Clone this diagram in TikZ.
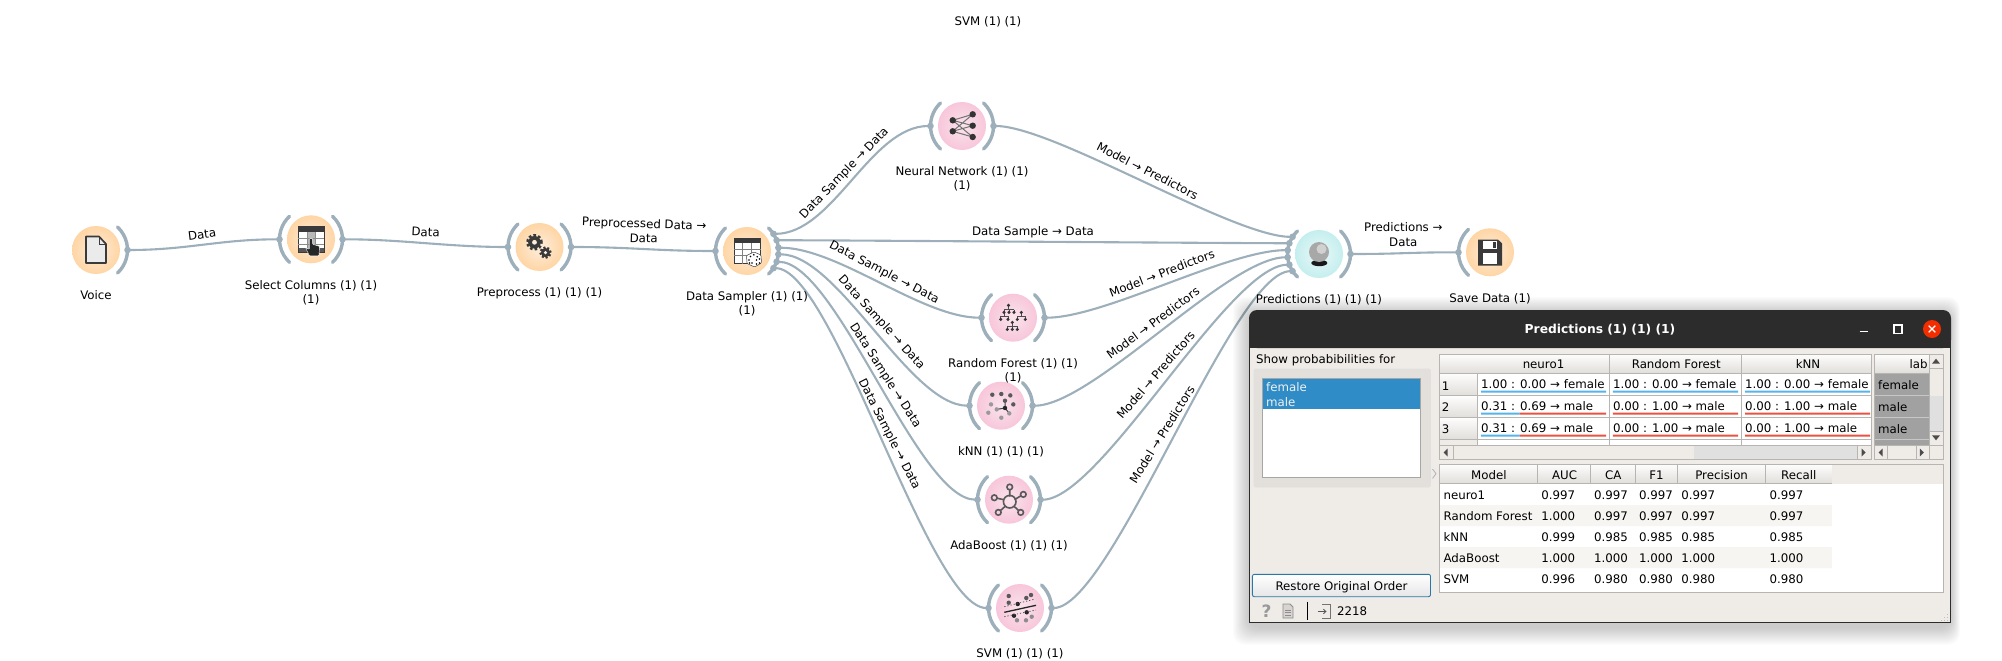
\documentclass[tikz,border=0pt]{standalone}
\usepackage{fontspec}
\setmainfont{DejaVu Sans}
\usepackage{tikz}
\usetikzlibrary{arrows.meta}

\definecolor{wire}{HTML}{9DAFBA}
\definecolor{winbg}{HTML}{EFECE8}
\definecolor{titlebar}{HTML}{2C2C2C}
\definecolor{gridline}{HTML}{B7B5B2}
\definecolor{selblue}{HTML}{308CC6}
\definecolor{barblue}{HTML}{55B5EA}
\definecolor{barred}{HTML}{E9533F}
\definecolor{icondark}{HTML}{3A3A3A}
\definecolor{orangein}{HTML}{FDEEDD}
\definecolor{orangeout}{HTML}{FFD5A4}
\definecolor{pinkin}{HTML}{F9E4EC}
\definecolor{pinkout}{HTML}{F8C6DA}
\definecolor{cyanin}{HTML}{ECF9F9}
\definecolor{cyanout}{HTML}{C4EEEE}

\tikzset{
  widget/.style={circle,inner sep=0pt,minimum size=48pt,outer sep=7.5pt},
  orangew/.style={widget,inner color=orangein,outer color=orangeout},
  pinkw/.style={widget,inner color=pinkin,outer color=pinkout},
  cyanw/.style={widget,inner color=cyanin,outer color=cyanout},
  channel/.style={draw=wire,line width=3.4pt,line cap=round},
  link/.style={draw=wire,line width=2.1pt,{Circle[length=6.5pt,sep=-3.2pt]}-{Circle[length=6.5pt,sep=-3.2pt]}},
  caption/.style={font=\fontsize{11.8}{14.6}\selectfont,align=center,inner sep=0pt,anchor=north},
  twolines/.style={font=\fontsize{11.8}{14.6}\selectfont,align=center,inner sep=0pt},
  linklabel/.style={font=\fontsize{11.8}{14.6}\selectfont,inner sep=0pt,text height=8.6pt,text depth=0pt},
  wintext/.style={font=\fontsize{11.8}{14.6}\selectfont,inner sep=0pt,text height=8.6pt,text depth=0pt},
  grid/.style={draw=gridline,line width=0.8pt},
  headfill/.style={top color=white!90!winbg,bottom color=winbg!94!black},
}

\newcommand{\chanout}[1]{\draw[channel] (#1.-47) arc[start angle=-47,end angle=47,radius=31.5pt];}
\newcommand{\chanin}[1]{\draw[channel] (#1.133) arc[start angle=133,end angle=227,radius=31.5pt];}

\begin{document}
\begin{tikzpicture}[x=1pt,y=-1pt]
  \useasboundingbox (0,0) rectangle (2002,661);

  % widgets
  \node[orangew] (voice) at (96,250) {};
  \node[orangew] (select) at (311,239.3) {};
  \node[orangew] (preproc) at (539.5,247) {};
  \node[orangew] (sampler) at (747,251) {};
  \node[pinkw] (nnet) at (962,126) {};
  \node[pinkw] (forest) at (1013,317.7) {};
  \node[pinkw] (knn) at (1001,405.7) {};
  \node[pinkw] (ada) at (1009,499.7) {};
  \node[pinkw] (svm) at (1020,608) {};
  \node[cyanw] (pred) at (1319,254) {};
  \node[orangew] (save) at (1490,252.3) {};

  \chanout{voice}
  \chanin{select} \chanout{select}
  \chanin{preproc} \chanout{preproc}
  \chanin{sampler} \chanout{sampler}
  \chanin{nnet} \chanout{nnet}
  \chanin{forest} \chanout{forest}
  \chanin{knn} \chanout{knn}
  \chanin{ada} \chanout{ada}
  \chanin{svm} \chanout{svm}
  \chanin{pred} \chanout{pred}
  \chanin{save}

  % links
  \draw[link] (voice.east) .. controls +(60,0) and +(-60,0) .. (select.west);
  \draw[link] (select.east) .. controls +(60,0) and +(-60,0) .. (preproc.west);
  \draw[link] (preproc.east) .. controls +(60,0) and +(-60,0) .. (sampler.west);
  \draw[link] (sampler.33) .. controls +(60,0) and +(-60,0) .. (nnet.west);
  \draw[link] (sampler.20) .. controls +(60,0) and +(-60,0) .. (pred.160);
  \draw[link] (sampler.6.5) .. controls +(60,0) and +(-60,0) .. (forest.west);
  \draw[link] (sampler.-6.5) .. controls +(60,0) and +(-60,0) .. (knn.west);
  \draw[link] (sampler.-20) .. controls +(60,0) and +(-60,0) .. (ada.west);
  \draw[link] (sampler.-33) .. controls +(60,0) and +(-60,0) .. (svm.west);
  \draw[link] (nnet.east) .. controls +(60,0) and +(-60,0) .. (pred.147);
  \draw[link] (forest.east) .. controls +(60,0) and +(-60,0) .. (pred.173.5);
  \draw[link] (knn.east) .. controls +(60,0) and +(-60,0) .. (pred.186.5);
  \draw[link] (ada.east) .. controls +(60,0) and +(-60,0) .. (pred.200);
  \draw[link] (svm.east) .. controls +(60,0) and +(-60,0) .. (pred.213);
  \draw[link] (pred.east) .. controls +(50,0) and +(-50,0) .. (save.west);

  % link labels
  \node[linklabel,rotate=7] (lvoice) at (202,234.5) {Data};
  \node[linklabel,rotate=-3] (lselect) at (425.7,232.3) {Data};
  \node[twolines,rotate=-2] (lpreproc) at (644,231) {Preprocessed Data →\\Data};
  \node[linklabel,rotate=46] (lnnet) at (843.6,172.7) {Data Sample → Data};
  \node[linklabel] (lpred) at (1033,230.7) {Data Sample → Data};
  \node[linklabel,rotate=-27.5] (lforest) at (884.6,271.7) {Data Sample → Data};
  \node[linklabel,rotate=-47.6] (lknn) at (882,322) {Data Sample → Data};
  \node[linklabel,rotate=-57.3] (lada) at (886,375) {Data Sample → Data};
  \node[linklabel,rotate=-62.8] (lsvm) at (890,434) {Data Sample → Data};
  \node[linklabel,rotate=-27] (mnnet) at (1147.5,171) {Model → Predictors};
  \node[linklabel,rotate=21] (mforest) at (1162,273.3) {Model → Predictors};
  \node[linklabel,rotate=36.5] (mknn) at (1153,323) {Model → Predictors};
  \node[linklabel,rotate=49] (mada) at (1155.8,375) {Model → Predictors};
  \node[linklabel,rotate=58] (msvm) at (1162,434.5) {Model → Predictors};
  \node[twolines] (lsave) at (1403.3,234.8) {Predictions →\\Data};

  % widget captions
  \node[caption] (cvoice) at (96,290.5) {Voice};
  \node[caption] (cselect) at (311,280) {Select Columns (1) (1)\\(1)};
  \node[caption] (cpreproc) at (539.5,287) {Preprocess (1) (1) (1)};
  \node[caption] (csampler) at (747,291) {Data Sampler (1) (1)\\(1)};
  \node[caption] (cnnet) at (962,166) {Neural Network (1) (1)\\(1)};
  \node[caption] (cforest) at (1013,358) {Random Forest (1) (1)\\(1)};
  \node[caption] (cknn) at (1001,446) {kNN (1) (1) (1)};
  \node[caption] (cada) at (1009,540) {AdaBoost (1) (1) (1)};
  \node[caption] (csvm) at (1020,648) {SVM (1) (1) (1)};
  \node[caption] (cpred) at (1319,294) {Predictions (1) (1) (1)};
  \node[caption] (csave) at (1490,293) {Save Data (1)};
  \node[caption] (cghost) at (988,16) {SVM (1) (1)};

  % icon: file
  \begin{scope}[shift={(voice.center)}]
    \draw[fill=white!92!black,draw=icondark,line width=1.7pt,line join=round]
      (-10,-13.5) -- (3,-13.5) -- (10,-6) -- (10,13) -- (-10,13) -- cycle;
    \draw[icondark,line width=1pt] (3,-13.5) -- (3,-6) -- (10,-6);
  \end{scope}

  % icon: table with hand
  \begin{scope}[shift={(select.center)}]
    \fill[white] (-13,-13) rectangle (13,13);
    \fill[black!28] (-4,-7) rectangle (4,13);
    \fill[icondark] (-13,-13.3) rectangle (13,-7);
    \fill[icondark!85] (-13,8.5) rectangle (-3,13.3);
    \fill[icondark!85] (6,8.5) rectangle (13,13.3);
    \draw[icondark,line width=1pt] (-13,-13) rectangle (13,13);
    \draw[black!45,line width=0.6pt] (-13,-1) -- (13,-1) (-13,5) -- (13,5) (-4,-7) -- (-4,13) (4,-7) -- (4,13);
    \fill[black!85,draw=white,line width=0.4pt,rounded corners=0.8pt]
      (-1.5,-1) -- (1.6,-1) -- (1.6,5) -- (8.5,7) -- (8,16.5) -- (-1.5,16.5) -- (-5.5,8.5) -- (-1.5,10) -- cycle;
  \end{scope}

  % icon: gears
  \begin{scope}[shift={(preproc.center)}]
    \fill[icondark] (-5,-4.7) circle (6.3pt);
    \draw[icondark,line width=2.6pt,dash pattern=on 2.6pt off 2.1pt] (-5,-4.7) circle (7pt);
    \fill[orangein] (-5,-4.7) circle (2.4pt);
    \fill[icondark] (6,5.6) circle (4.6pt);
    \draw[icondark,line width=2.2pt,dash pattern=on 2.1pt off 1.9pt] (6,5.6) circle (5.2pt);
    \fill[orangein] (6,5.6) circle (1.8pt);
  \end{scope}

  % icon: table with die
  \begin{scope}[shift={(sampler.center)}]
    \fill[white] (-13,-13) rectangle (13.5,12.7);
    \fill[icondark] (-13,-13) rectangle (13.5,-8);
    \draw[icondark,line width=1pt] (-13,-13) rectangle (13.5,12.7);
    \draw[black!50,line width=0.6pt] (-13,-2) -- (13.5,-2) (-13,4.5) -- (13.5,4.5) (-5,-8) -- (-5,12.7) (4,-8) -- (4,12.7);
    \fill[white,draw=black!75,line width=0.5pt,rounded corners=1pt]
      (7,1) -- (14,4) -- (14.5,12) -- (7.5,16) -- (0,12.5) -- (-0.5,4.5) -- cycle;
    \fill[black] (6.8,3.8) circle (0.9pt) (3.5,5.5) circle (0.9pt) (10.2,5.8) circle (0.9pt);
    \fill[black] (2,9) circle (0.9pt) (5,12) circle (0.9pt) (2.5,12) circle (0.9pt);
    \fill[black] (9.5,9) circle (0.9pt) (12.5,8) circle (0.9pt) (9.5,13) circle (0.9pt) (12.5,12) circle (0.9pt);
  \end{scope}

  % icon: network
  \begin{scope}[shift={(nnet.center)}]
    \draw[black!55,line width=1pt]
      (-9.3,-5.7) -- (10.7,-11.7) (-9.3,-5.7) -- (10.7,-0.3) (-9.3,-5.7) -- (10.7,11)
      (-9.3,5.3) -- (10.7,-11.7) (-9.3,5.3) -- (10.7,-0.3) (-9.3,5.3) -- (10.7,11);
    \fill[black!80] (-9.3,-5.7) circle (3.2pt) (-9.3,5.3) circle (3.2pt)
      (10.7,-11.7) circle (3.2pt) (10.7,-0.3) circle (3.2pt) (10.7,11) circle (3.2pt);
  \end{scope}

  % icon: trees
  \begin{scope}[shift={(forest.center)}]
    \draw[black!70,line width=0.6pt]
      (-4.5,-12.3) -- (-4.5,-8) (-9,-8) -- (1,-8) (-9,-8) -- (-9,-5) (-4,-8) -- (-4,-5) (1,-8) -- (1,-5)
      (-9,-5) -- (-9,-1.5) (-12.3,-1.5) -- (-5,-1.5) (-12.3,-1.5) -- (-12.3,1.7) (-5,-1.5) -- (-5,1.7)
      (8.3,-5.3) -- (8.3,-1.5) (4.3,-1.5) -- (12.3,-1.5) (4.3,-1.5) -- (4.3,1.7) (12.3,-1.5) -- (12.3,1.7)
      (-0.7,4.7) -- (-0.7,8.5) (-5.7,8.5) -- (4.3,8.5) (-5.7,8.5) -- (-5.7,11.7) (-0.7,8.5) -- (-0.7,11.7) (4.3,8.5) -- (4.3,11.7);
    \fill[black!80] (-4.5,-12.3) circle (1.7pt) (-9,-5.3) circle (1.7pt) (-4,-5.3) circle (1.7pt) (1,-5.3) circle (1.7pt)
      (-12.3,1.7) circle (1.7pt) (-5,1.7) circle (1.7pt) (8.3,-5.3) circle (1.7pt) (4.3,1.7) circle (1.7pt) (12.3,1.7) circle (1.7pt)
      (-0.7,4.7) circle (1.7pt) (-5.7,11.7) circle (1.7pt) (-0.7,11.7) circle (1.7pt) (4.3,11.7) circle (1.7pt);
  \end{scope}

  % icon: neighbours
  \begin{scope}[shift={(knn.center)}]
    \fill[black!65] (-8.7,-11) circle (2.2pt) (0.3,-11.7) circle (2.2pt) (9.3,-10.3) circle (2.2pt) (12.3,-1.3) circle (2.2pt);
    \fill[black!40] (-10,-1.3) circle (2.2pt) (-12.7,7) circle (2.2pt) (0.3,12) circle (2.2pt);
    \draw[black!75,line width=1pt] (4,2.3) -- (4,-5) (4,2.3) -- (-4.3,3.7) (4,2.3) -- (8.3,7.7);
    \fill[black!65] (4,-5) circle (2.2pt);
    \fill[black!40] (-4.3,3.7) circle (2.2pt) (8.3,7.7) circle (2.2pt);
    \fill[black!85] (4,2.3) circle (2.2pt);
  \end{scope}

  % icon: hub
  \begin{scope}[shift={(ada.center)}]
    \draw[black!65,line width=1.6pt]
      (0.7,-3) -- (0.7,-10) (5.5,0) -- (12,-4) (5,6.5) -- (9.7,11) (-3.7,6.5) -- (-8.7,11) (-5,0) -- (-12.2,-1.5);
    \draw[black!65,line width=1.6pt] (0.7,2) circle (6.3pt) (0.7,-12.7) circle (2.8pt) (14.3,-5.3) circle (2.8pt)
      (11.7,12.7) circle (2.8pt) (-10.7,12.7) circle (2.8pt) (-14.7,-2) circle (2.8pt);
  \end{scope}

  % icon: margin
  \begin{scope}[shift={(svm.center)}]
    \fill[black!65] (-11.3,-12) circle (2.2pt) (6.3,-10) circle (2.2pt) (11,-13) circle (2.2pt) (-11.3,-5.3) circle (2.2pt);
    \fill[black!85] (-2.3,-4) circle (2.2pt) (6.7,4.3) circle (2.2pt) (-6,7.7) circle (2.2pt);
    \fill[black!45] (-3,12.3) circle (2.2pt) (6,12.3) circle (2.2pt) (11.7,8.7) circle (2.2pt);
    \draw[black!85,line width=1.3pt] (-15.7,4.3) -- (16,-2.7);
    \draw[black!75,line width=0.7pt,dash pattern=on 1.2pt off 2pt] (-15.7,-1.3) -- (14,-8.7) (-15.7,8.7) -- (16,2);
  \end{scope}

  % icon: ball
  \begin{scope}[shift={(pred.center)}]
    \fill[black!90] (0.3,9) ellipse (8pt and 3.2pt);
    \fill[black!34] (0,-2) circle (10pt);
    \fill[black!18] (2.5,-5) circle (5pt);
  \end{scope}

  % icon: disk
  \begin{scope}[shift={(save.center)}]
    \fill[icondark] (-12,-12.7) -- (8,-12.7) -- (12,-9) -- (12,13.3) -- (-12,13.3) -- cycle;
    \fill[white] (-6.7,1) rectangle (7.3,11.5);
    \fill[white] (-6.7,-11.7) rectangle (7.3,-3.5);
    \fill[icondark] (2.7,-10.7) rectangle (6,-4.5);
  \end{scope}

  % window shadow
  \foreach \i in {1,...,18}
    \fill[black,opacity=0.012,rounded corners=12pt] ({1249-0.9*\i},{313-0.9*\i}) rectangle ({1951+0.5*\i},{627+\i});

  % window frame
  \fill[winbg] (1249,340) rectangle (1951,623);
  \draw[titlebar,line width=1.3pt] (1249.6,340) -- (1249.6,622.4) -- (1950.4,622.4) -- (1950.4,340);
  \fill[titlebar,rounded corners=8pt] (1249,310) -- (1951,310) -- (1951,348) -- (1249,348) -- cycle;
  \fill[titlebar] (1249,330) rectangle (1951,348);
  \node[font=\fontsize{12.3}{16}\selectfont\bfseries,text=white,inner sep=0pt] (wintitle) at (1600,330) {Predictions (1) (1) (1)};
  \draw[white,line width=1.4pt] (1859.5,331.5) -- (1868,331.5);
  \draw[white,line width=1.2pt] (1894,325) rectangle (1902,333.5);
  \fill[red!62!orange!95!black] (1932,329) circle (9pt);
  \draw[white,line width=1.3pt] (1928.7,325.7) -- (1935.3,332.3) (1928.7,332.3) -- (1935.3,325.7);

  % left pane
  \node[wintext,anchor=west] (showfor) at (1256,358.7) {Show probabibilities for};
  \draw[fill=winbg!95!black,draw=black!12,line width=0.8pt,rounded corners=1.5pt] (1254,369) rectangle (1430.5,487);
  \draw[fill=white,draw=black!35,line width=0.9pt] (1262,378) rectangle (1420.4,477.7);
  \fill[selblue] (1262.6,379) rectangle (1419.8,409);
  \node[wintext,anchor=west,text=white!94!black] (lfemale) at (1266,386.7) {female};
  \node[wintext,anchor=west,text=white!94!black] (lmale) at (1266,401.7) {male};
  \draw[black!30,line width=0.8pt] (1432.5,469) -- (1436,473.7) -- (1432.5,478.4);
  \shade[top color=white,bottom color=blue!8!black!10!white,rounded corners=2pt] (1252.4,574.3) rectangle (1430.5,596.7);
  \draw[selblue!85!black,line width=0.9pt,rounded corners=2pt] (1252.4,574.3) rectangle (1430.5,596.7);
  \node[wintext] (restore) at (1341.5,585.7) {Restore Original Order};

  % status bar
  \node[font=\fontsize{17}{17}\selectfont\bfseries,text=black!40,inner sep=0pt] (helpmark) at (1266.6,611) {?};
  \draw[black!45,fill=winbg!90!black,line width=0.9pt] (1283,604) -- (1290,604) -- (1293,607) -- (1293,618) -- (1283,618) -- cycle;
  \draw[black!45,line width=0.7pt] (1285,610) -- (1291,610) (1285,612.5) -- (1291,612.5) (1285,615) -- (1291,615);
  \draw[black,line width=1pt] (1307.5,601.7) -- (1307.5,620);
  \draw[black!55,line width=0.8pt] (1322,604.5) -- (1330,604.5) -- (1330,618.5) -- (1322,618.5);
  \draw[black!65,line width=0.9pt,-{Straight Barb[length=2.4pt,width=4.5pt]}] (1318,611.5) -- (1326.5,611.5);
  \node[wintext,anchor=west] (count) at (1337,611) {2218};
  \foreach \i/\j in {0/0,3/0,6/0,3/3,6/3,6/6}
    \fill[black!25] ({1941+\i},{621-\j-1}) rectangle ({1942+\i},{621-\j});

  % prediction table
  \fill[white] (1439.7,354.3) rectangle (1871.3,445.3);
  \shade[headfill] (1439.7,354.3) rectangle (1871.3,373.3);
  \shade[headfill] (1439.7,373.3) rectangle (1477.4,395.7);
  \shade[headfill] (1439.7,395.7) rectangle (1477.4,417.7);
  \shade[headfill] (1439.7,417.7) rectangle (1477.4,439.3);
  \fill[winbg] (1439.7,439.3) rectangle (1477.4,445.3);
  \draw[grid] (1439.7,373.3) -- (1871.3,373.3) (1439.7,395.7) -- (1871.3,395.7) (1439.7,417.7) -- (1871.3,417.7) (1439.7,439.3) -- (1871.3,439.3);
  \draw[grid] (1477.4,373.3) -- (1477.4,445.3) (1609.6,354.3) -- (1609.6,445.3) (1741.4,354.3) -- (1741.4,445.3);
  \draw[grid] (1439.7,354.3) rectangle (1871.3,459.7);
  \node[wintext] (hneuro) at (1543.5,364.3) {neuro1};
  \node[wintext] (hforest) at (1676.2,364.3) {Random Forest};
  \node[wintext] (hknn) at (1808,364.3) {kNN};
  \node[wintext] (rone) at (1445.7,385.7) {1};
  \node[wintext] (rtwo) at (1445.7,407.3) {2};
  \node[wintext] (rthree) at (1445.7,429.3) {3};
  \node[wintext,anchor=west] (aone) at (1481,384.3) {1.00 : 0.00 → female};
  \node[wintext,anchor=west] (bone) at (1612.8,384.3) {1.00 : 0.00 → female};
  \node[wintext,anchor=west] (cone) at (1745,384.3) {1.00 : 0.00 → female};
  \node[wintext,anchor=west] (atwo) at (1481,406.3) {0.31 : 0.69 → male};
  \node[wintext,anchor=west] (btwo) at (1612.8,406.3) {0.00 : 1.00 → male};
  \node[wintext,anchor=west] (ctwo) at (1745,406.3) {0.00 : 1.00 → male};
  \node[wintext,anchor=west] (athree) at (1481,428.3) {0.31 : 0.69 → male};
  \node[wintext,anchor=west] (bthree) at (1612.8,428.3) {0.00 : 1.00 → male};
  \node[wintext,anchor=west] (cthree) at (1745,428.3) {0.00 : 1.00 → male};
  \fill[barblue] (1481,390.7) rectangle (1606,392.7) (1612.8,390.7) rectangle (1738,392.7) (1745,390.7) rectangle (1870,392.7);
  \fill[barblue] (1481,412.7) rectangle (1519.6,414.7) (1481,434.7) rectangle (1519.6,436.7);
  \fill[barred] (1519.6,412.7) rectangle (1606,414.7) (1612.8,412.7) rectangle (1738,414.7) (1745,412.7) rectangle (1870,414.7);
  \fill[barred] (1519.6,434.7) rectangle (1606,436.7) (1612.8,434.7) rectangle (1738,436.7) (1745,434.7) rectangle (1870,436.7);

  % its scroll bar
  \fill[winbg] (1440.2,445.3) rectangle (1870.8,459.2);
  \fill[black!12] (1693.6,445.8) rectangle (1857.5,459.2);
  \draw[grid] (1439.7,445.3) -- (1871.3,445.3) (1453.5,445.3) -- (1453.5,459.7) (1857.5,445.3) -- (1857.5,459.7);
  \fill[black!70] (1443.5,452.5) -- (1447.5,448.5) -- (1447.5,456.5) -- cycle;
  \fill[black!70] (1865.5,452.5) -- (1861.5,448.5) -- (1861.5,456.5) -- cycle;

  % label column
  \shade[headfill] (1874.5,354.3) rectangle (1928.7,373.3);
  \fill[black!37] (1874.5,373.3) rectangle (1928.7,445.3);
  \draw[grid] (1874.5,373.3) -- (1928.7,373.3);
  \draw[black!22,line width=0.8pt] (1874.5,395.7) -- (1928.7,395.7) (1874.5,417.7) -- (1928.7,417.7) (1874.5,439.3) -- (1928.7,439.3);
  \node[wintext,anchor=east] (hlabel) at (1927.8,364.3) {lab};
  \node[wintext,anchor=west] (lone) at (1878,384.7) {female};
  \node[wintext,anchor=west] (ltwo) at (1878,406.7) {male};
  \node[wintext,anchor=west] (lthree) at (1878,428.7) {male};
  \draw[grid] (1874.5,354.3) rectangle (1943.4,459.7);
  \fill[black!12] (1930,395.7) rectangle (1943,431);
  \draw[grid] (1929.2,354.3) -- (1929.2,459.7) (1874.5,445.3) -- (1943.4,445.3) (1929.2,368.3) -- (1943.4,368.3) (1929.2,431) -- (1943.4,431);
  \fill[black!70] (1936,358.7) -- (1940,363.7) -- (1932,363.7) -- cycle;
  \fill[black!70] (1936,440.3) -- (1940,435.3) -- (1932,435.3) -- cycle;
  \fill[black!70] (1878.5,452.5) -- (1882.5,448.5) -- (1882.5,456.5) -- cycle;
  \fill[black!70] (1923.8,452.5) -- (1919.8,448.5) -- (1919.8,456.5) -- cycle;
  \draw[grid] (1887,445.3) -- (1887,459.7) (1916,445.3) -- (1916,459.7);

  % scores table
  \fill[white] (1439.7,464.3) rectangle (1943.4,592.7);
  \fill[winbg] (1439.7,464.3) rectangle (1943.4,483.7);
  \shade[headfill] (1439.7,464.3) rectangle (1831.8,483.7);
  \draw[grid] (1537.5,464.3) -- (1537.5,483.7) (1590.3,464.3) -- (1590.3,483.7) (1635.3,464.3) -- (1635.3,483.7)
    (1677.6,464.3) -- (1677.6,483.7) (1765.2,464.3) -- (1765.2,483.7);
  \draw[grid] (1439.7,483.7) -- (1831.8,483.7);
  \fill[winbg!55!white] (1440.2,505) rectangle (1831.8,526) (1440.2,547) rectangle (1831.8,568);
  \draw[grid] (1439.7,464.3) rectangle (1943.4,592.7);
  \node[wintext] (hmodel) at (1488.9,474.7) {Model};
  \node[wintext] (hauc) at (1564.6,474.7) {AUC};
  \node[wintext] (hca) at (1613.3,474.7) {CA};
  \node[wintext] (hfone) at (1656.4,474.7) {F1};
  \node[wintext] (hprec) at (1721.6,474.7) {Precision};
  \node[wintext] (hrec) at (1798.8,474.7) {Recall};
  \foreach \row/\ypos/\model/\auc/\score in {1/494.7/neuro1/0.997/0.997,2/515.7/Random Forest/1.000/0.997,
      3/536.7/kNN/0.999/0.985,4/557.7/AdaBoost/1.000/1.000,5/578.7/SVM/0.996/0.980} {
    \node[wintext,anchor=west] (model\row) at (1443.4,\ypos) {\model};
    \node[wintext,anchor=west] (auc\row) at (1541.2,\ypos) {\auc};
    \node[wintext,anchor=west] (ca\row) at (1594,\ypos) {\score};
    \node[wintext,anchor=west] (fone\row) at (1639,\ypos) {\score};
    \node[wintext,anchor=west] (prec\row) at (1681.2,\ypos) {\score};
    \node[wintext,anchor=west] (rec\row) at (1769.4,\ypos) {\score};
  }
\end{tikzpicture}
\end{document}
